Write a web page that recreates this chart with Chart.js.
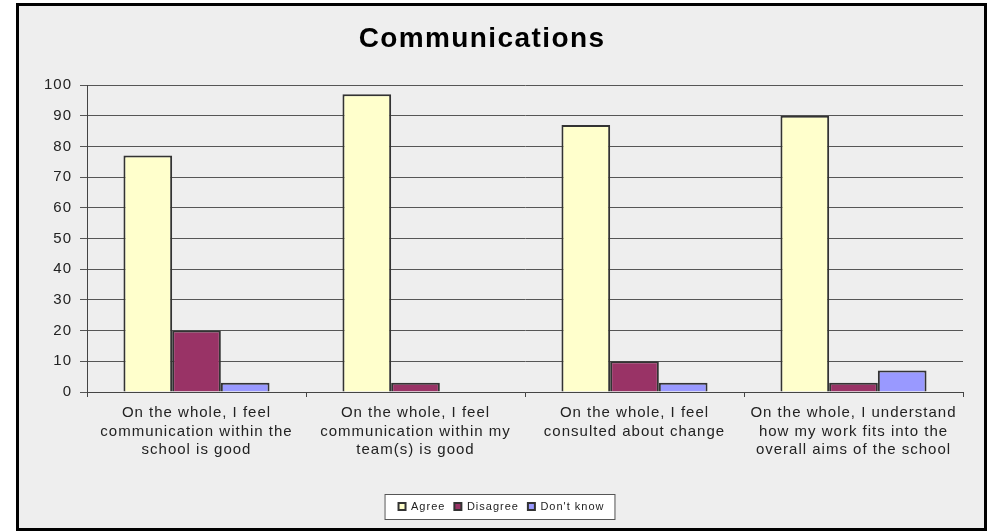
<!DOCTYPE html>
<html>
<head>
<meta charset="utf-8">
<script src="https://cdn.jsdelivr.net/npm/chart.js@4.4.0/dist/chart.umd.min.js"></script>
<style>
  body { margin: 0; background: #fff; }
  #frame {
    position: absolute; left: 16px; top: 3px;
    width: 965px; height: 522px;
    border: 3px solid #000;
    background: #eeeeee;
  }
  #chart { display: block; }
</style>
</head>
<body>
<div id="frame"><canvas id="chart" width="965" height="522"></canvas></div>
<script>
// data
var categories = [
  ["On the whole, I feel", "communication within the", "school is good"],
  ["On the whole, I feel", "communication within my", "team(s) is good"],
  ["On the whole, I feel", "consulted about change"],
  ["On the whole, I understand", "how my work fits into the", "overall aims of the school"]
];
var agree = [77, 97, 87, 90];
var disagree = [20, 3, 10, 3];
var dontKnow = [3, 0, 3, 7];
var seriesNames = ["Agree", "Disagree", "Don't know"];
var chartTitle = "Communications";

var font = '"Liberation Sans", Arial, sans-serif';

// old-style wide text spacing, and the white legend box + title
var extras = {
  id: "extras",
  beforeLayout: function (chart) {
    chart.ctx.letterSpacing = "1px";
  },
  beforeDraw: function (chart) {
    var ctx = chart.ctx;
    ctx.letterSpacing = "1px";
    ctx.save();
    ctx.font = "bold 28px " + font;
    ctx.letterSpacing = "1.4px";
    ctx.fillStyle = "#000";
    ctx.textAlign = "center";
    ctx.textBaseline = "alphabetic";
    ctx.fillText(chartTitle, 463, 41);
    ctx.restore();

    var boxes = chart.legend.legendHitBoxes;
    if (boxes && boxes.length) {
      var l = boxes[0].left, r = 0, cy = boxes[0].top + boxes[0].height / 2;
      boxes.forEach(function (b) {
        l = Math.min(l, b.left);
        r = Math.max(r, b.left + b.width);
      });
      ctx.save();
      ctx.fillStyle = "#fff";
      ctx.strokeStyle = "#555";
      ctx.lineWidth = 1;
      ctx.fillRect(l - 14, cy - 12.5, r - l + 24, 25);
      ctx.strokeRect(l - 14 + 0.5, cy - 12.5 + 0.5, r - l + 24, 25);
      ctx.restore();
    }
  }
};

var ds = function (label, data, color) {
  return {
    label: label,
    data: data,
    backgroundColor: color,
    borderColor: "#333",
    borderWidth: 2,
    categoryPercentage: 0.667,
    barPercentage: 1.0
  };
};

new Chart(document.getElementById("chart"), {
  type: "bar",
  data: {
    labels: categories,
    datasets: [
      ds(seriesNames[0], agree, "#ffffcc"),
      ds(seriesNames[1], disagree, "#993366"),
      ds(seriesNames[2], dontKnow, "#9999ff")
    ]
  },
  options: {
    responsive: false,
    animation: false,
    events: [],
    layout: { padding: { top: 79, right: 0, left: 0, bottom: 6 } },
    plugins: {
      title: { display: false },
      tooltip: { enabled: false },
      legend: {
        position: "bottom",
        labels: {
          color: "#222",
          font: { family: font, size: 11 },
          boxWidth: 7,
          boxHeight: 7,
          padding: 9
        }
      }
    },
    scales: {
      x: {
        grid: {
          drawOnChartArea: false,
          drawTicks: true,
          tickLength: 5,
          color: "#444",
          offset: true
        },
        border: { color: "#444", width: 1 },
        ticks: {
          color: "#222",
          font: { family: font, size: 15, lineHeight: 1.23 },
          maxRotation: 0,
          autoSkip: false,
          padding: 7
        },
        afterFit: function (scale) { scale.height = 100; }
      },
      y: {
        min: 0,
        max: 100,
        grid: { color: "#555", tickLength: 7, lineWidth: 1 },
        border: { color: "#444", width: 1 },
        ticks: {
          stepSize: 10,
          color: "#222",
          font: { family: font, size: 15 },
          padding: 8
        },
        afterFit: function (scale) { scale.width = 68; }
      },
      // empty right-hand spacer so the plot stops short of the frame
      y2: {
        position: "right",
        display: true,
        grid: { display: false },
        border: { display: false },
        ticks: { display: false },
        afterFit: function (scale) { scale.width = 21; }
      }
    }
  },
  plugins: [extras]
});
</script>
</body>
</html>
